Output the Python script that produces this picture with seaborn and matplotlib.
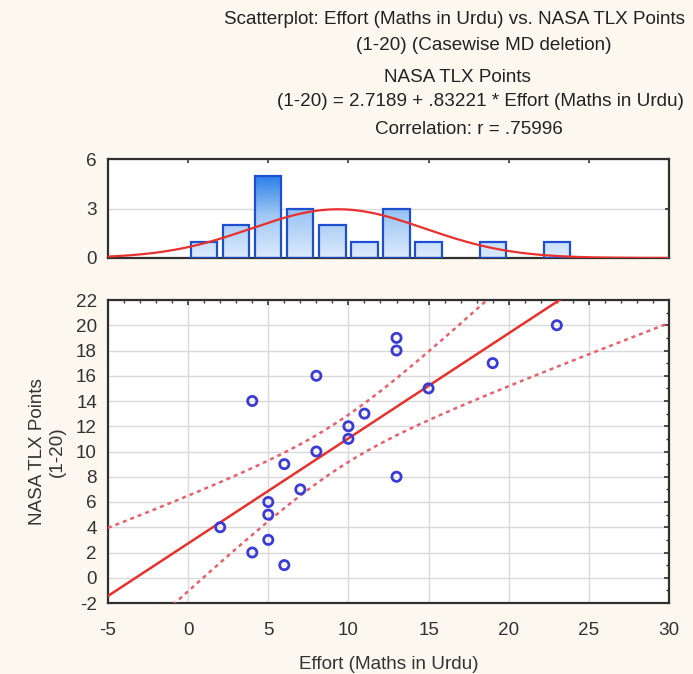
import numpy as np
import pandas as pd
import matplotlib
matplotlib.use("Agg")
import matplotlib.pyplot as plt
from matplotlib.ticker import MultipleLocator
from matplotlib.colors import LinearSegmentedColormap
import seaborn as sns

# Effort (Maths in Urdu) and NASA TLX Points (1-20), one pair per case
effort = [2, 4, 4, 5, 5, 5, 6, 6, 7, 8, 8, 10, 10, 11, 13, 13, 13, 15, 19, 23]
tlx = [4, 14, 2, 6, 5, 3, 9, 1, 7, 10, 16, 12, 11, 13, 19, 18, 8, 15, 17, 20]

# Fitted regression reported in the header
intercept = 2.7189
slope = 0.83221
r_value = 0.75996

# Histogram bin edges for the marginal distribution of Effort
bin_edges = list(range(0, 26, 2))

x_ticks = [-5, 0, 5, 10, 15, 20, 25, 30]
y_ticks = list(range(-2, 23, 2))
hist_ticks = [0, 3, 6]

T_CRIT_95_DF18 = 2.1009

sns.set_style("white")
plt.rcParams["font.family"] = ["Liberation Sans", "DejaVu Sans"]
plt.rcParams["axes.unicode_minus"] = False

FS = 13.6
BG = "#fcf8ef"
FRAME = "#303030"
TXT = "#333333"
GRID = "#d9d9d9"
RED = "#e8312d"
DOT_RED = "#e8606e"
BLUE_MK = "#3b3bd6"

df = pd.DataFrame({"effort": effort, "tlx": tlx})

fig = plt.figure(figsize=(6.93, 6.74), dpi=100, facecolor=BG)
W, H = 693, 674


def frac_rect(l, t, r, b):
    return [l / W, 1 - b / H, (r - l) / W, (b - t) / H]


ax_h = fig.add_axes(frac_rect(108, 159, 669, 258))
ax_s = fig.add_axes(frac_rect(108, 300, 669, 603))

# ---- marginal histogram (right-closed bins) ----
cats = pd.cut(df["effort"], bins=bin_edges, right=True)
counts = cats.value_counts(sort=False).values
centers = [(a + b) / 2 for a, b in zip(bin_edges[:-1], bin_edges[1:])]
hdf = pd.DataFrame({"center": centers, "count": counts})
sns.histplot(data=hdf, x="center", weights="count", bins=bin_edges, shrink=0.82,
             ax=ax_h, facecolor="none", edgecolor="#1d4fd0", linewidth=1.6, zorder=3)

grad_cmap = LinearSegmentedColormap.from_list("bar_grad", ["#deebfc", "#9fc7f5", "#1f78e6"])
grad = np.linspace(0, 1, 256).reshape(-1, 1)
for p in list(ax_h.patches):
    h = p.get_height()
    if h <= 0:
        p.set_visible(False)
        continue
    x0 = p.get_x()
    w = p.get_width()
    im = ax_h.imshow(grad, cmap=grad_cmap, origin="lower", aspect="auto",
                     extent=(x0, x0 + w, 0, 5.2), zorder=2)
    im.set_clip_path(p)

# normal curve scaled to counts per bin
ex = np.asarray(effort, dtype=float)
mu, sd = ex.mean(), ex.std(ddof=1)
bw = bin_edges[1] - bin_edges[0]
xs = np.linspace(-5, 30, 400)
ys = len(ex) * bw * np.exp(-0.5 * ((xs - mu) / sd) ** 2) / (sd * np.sqrt(2 * np.pi))
sns.lineplot(x=xs, y=ys, ax=ax_h, color=RED, linewidth=1.6, zorder=4)

ax_h.set_xlim(-5, 30)
ax_h.set_ylim(0, 6)
ax_h.set_yticks(hist_ticks)
ax_h.set_xticks(x_ticks)
ax_h.set_xticklabels([])
ax_h.set_xlabel("")
ax_h.set_ylabel("")
ax_h.yaxis.grid(True, color=GRID, linewidth=1)
ax_h.xaxis.grid(False)
ax_h.set_axisbelow(True)
ax_h.tick_params(axis="both", direction="in", length=3, width=1.2, color=FRAME,
                 top=True, right=True, labelsize=FS, labelcolor=TXT, pad=8)

# ---- scatterplot with regression and 95% confidence bands ----
sns.scatterplot(data=df, x="effort", y="tlx", ax=ax_s, marker="o", s=44,
                facecolor="none", edgecolor=BLUE_MK, linewidth=2.0, zorder=5)

xl = np.linspace(-5, 30, 200)
fit = intercept + slope * xl
n = len(ex)
ey = np.asarray(tlx, dtype=float)
resid = ey - (intercept + slope * ex)
s_err = np.sqrt(np.sum(resid ** 2) / (n - 2))
sxx = np.sum((ex - mu) ** 2)
half = T_CRIT_95_DF18 * s_err * np.sqrt(1 / n + (xl - mu) ** 2 / sxx)
sns.lineplot(x=xl, y=fit, ax=ax_s, color=RED, linewidth=1.8, zorder=4)
ax_s.plot(xl, fit + half, color=DOT_RED, linewidth=1.8, linestyle=(0, (1.6, 1.6)), zorder=4)
ax_s.plot(xl, fit - half, color=DOT_RED, linewidth=1.8, linestyle=(0, (1.6, 1.6)), zorder=4)

ax_s.set_xlim(-5, 30)
ax_s.set_ylim(-2, 22)
ax_s.set_xticks(x_ticks)
ax_s.set_yticks(y_ticks)
ax_s.xaxis.set_minor_locator(MultipleLocator(1))
ax_s.yaxis.set_minor_locator(MultipleLocator(1))
ax_s.grid(True, which="major", color=GRID, linewidth=1)
ax_s.set_axisbelow(True)
ax_s.tick_params(axis="both", which="major", direction="in", length=3.5, width=1.2,
                 color=FRAME, top=True, right=True, labelsize=FS, labelcolor=TXT, pad=8)
ax_s.tick_params(axis="x", which="major", pad=14)
ax_s.tick_params(axis="both", which="minor", direction="in", length=2, width=1,
                 color=FRAME, top=True, right=True)
ax_s.set_xlabel("Effort (Maths in Urdu)", fontsize=FS, color=TXT, labelpad=12)
ax_s.set_ylabel("NASA TLX Points\n(1-20)", fontsize=FS, color=TXT, labelpad=7,
                linespacing=1.25)

for a in (ax_h, ax_s):
    a.set_facecolor("white")
    for sp in a.spines.values():
        sp.set_visible(True)
        sp.set_color(FRAME)
        sp.set_linewidth(1.6)

# ---- header ----
header = [
    ("Scatterplot: Effort (Maths in Urdu) vs. NASA TLX Points", 455, 20),
    ("(1-20) (Casewise MD deletion)", 484, 46),
    ("NASA TLX Points", 457, 78),
    (f"(1-20) = {intercept} + {str(slope).lstrip('0')} * Effort (Maths in Urdu)", 480, 102),
    (f"Correlation: r = {str(r_value).lstrip('0')}", 469, 129),
]
for txt, cx, cy in header:
    fig.text(cx / W, 1 - cy / H, txt, ha="center", va="center", fontsize=FS, color="#222222")

fig.savefig("out.png", dpi=100, facecolor=BG)
